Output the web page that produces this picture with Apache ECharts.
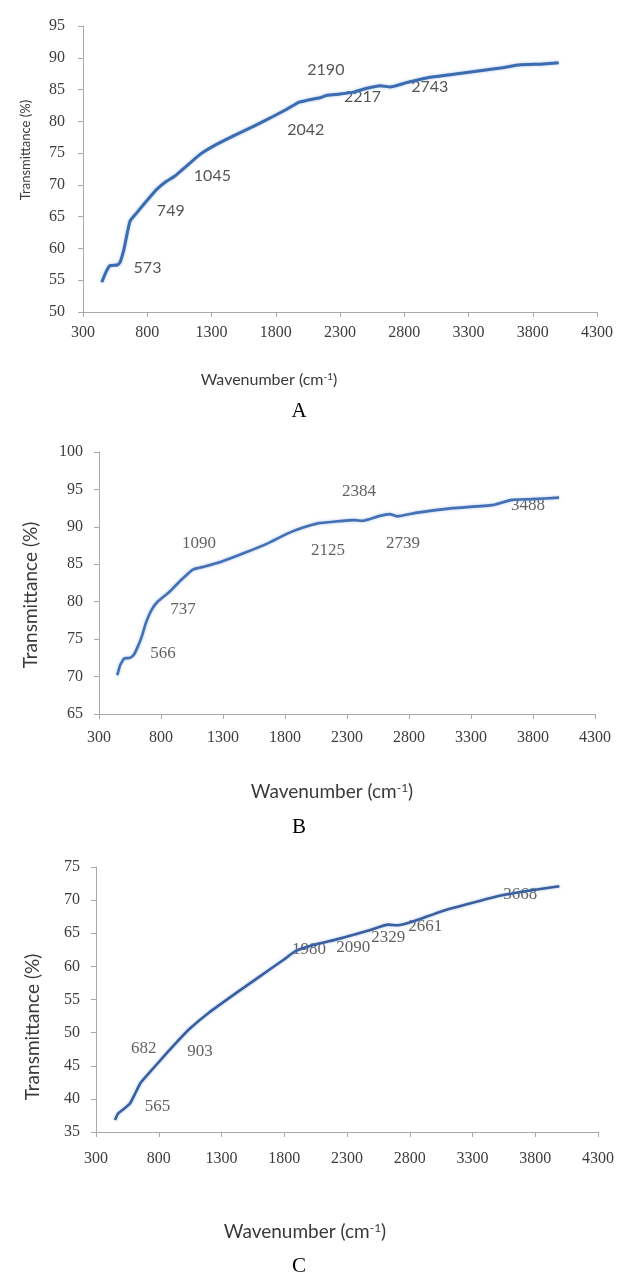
<!DOCTYPE html>
<html>
<head>
<meta charset="utf-8">
<script src="https://cdn.jsdelivr.net/npm/echarts@6/dist/echarts.min.js"></script>
<style>
html,body{margin:0;padding:0;background:#fff;}
#chart{width:617px;height:1278px;}
</style>
</head>
<body>
<div id="chart"></div>
<script>
// ---------- DATA ----------
const xTicks = [300, 800, 1300, 1800, 2300, 2800, 3300, 3800, 4300];

// Panel A
const wavenumberA = [446,484,510,567,588,619,640,666,718,796,874,952,1016,1108,1211,1315,1471,1626,1782,1886,1977,2042,2146,2198,2301,2405,2509,2613,2691,2821,3028,3288,3548,3703,3859,4002];
const transmittanceA = [54.7,56.5,57.3,57.4,57.8,59.9,62.0,64.3,65.6,67.5,69.3,70.6,71.4,73.0,74.8,76.1,77.7,79.2,80.8,81.9,83.0,83.3,83.7,84.1,84.3,84.6,85.2,85.6,85.4,86.1,87.0,87.7,88.4,88.9,89.0,89.2];
const peakLabelsA = ['573','749','1045','2042','2190','2217','2743'];
const peakLabelXA = [802, 983, 1307, 2034, 2190, 2475, 2998];
const peakLabelYA = [56.9, 65.9, 71.5, 78.7, 88.1, 83.8, 85.4];

// Panel B
const wavenumberB = [448,470,502,550,581,613,644,677,724,772,867,962,1057,1152,1280,1470,1661,1819,1946,2073,2200,2359,2423,2550,2645,2708,2867,3153,3470,3629,3788,4010];
const transmittanceB = [70.2,71.5,72.4,72.5,72.9,74.0,75.3,77.1,78.9,80.0,81.3,82.9,84.3,84.7,85.3,86.5,87.8,89.1,89.9,90.5,90.7,90.9,90.8,91.4,91.7,91.4,91.9,92.5,92.9,93.6,93.7,93.9];
const peakLabelsB = ['566','737','1090','2125','2384','2739','3488'];
const peakLabelXB = [816, 977, 1106, 2147, 2397, 2752, 3760];
const peakLabelYB = [73.1, 78.9, 87.8, 86.8, 94.7, 87.8, 92.9];

// Panel C
const wavenumberC = [451,476,523,571,617,658,727,821,916,1042,1199,1418,1606,1795,1889,2046,2203,2360,2485,2627,2705,2831,3051,3301,3553,3773,3992];
const transmittanceC = [36.8,37.8,38.5,39.3,41.0,42.5,44.0,46.0,48.0,50.5,53.0,56.0,58.5,61.0,62.3,63.3,64.0,64.8,65.5,66.3,66.2,66.8,68.3,69.6,70.8,71.5,72.1];
const peakLabelsC = ['682','903','565','1980','2090','2329','2661','3668'];
const peakLabelXC = [680, 1129, 790, 1998, 2349, 2628, 2923, 3681];
const peakLabelYC = [47.6, 47.1, 38.9, 62.6, 62.9, 64.4, 66.0, 70.8];

const yTitle = 'Transmittance (%)';
const panelLetters = ['A', 'B', 'C'];

// ---------- CHART ----------
const chart = echarts.init(document.getElementById('chart'), null, {renderer: 'canvas'});

const panels = [
  {wn: wavenumberA, tr: transmittanceA, pl: peakLabelsA, px: peakLabelXA, py: peakLabelYA,
   yMin: 50, yMax: 95,
   grid: {left: 83, right: 20, top: 26, height: 286},
   tickFont: 16, labelMargin: 18, xLabelMargin: 13,
   annFont: {fontFamily: 'Lato', fontSize: 16, color: '#2b2b2b'},
   lineColor: '#3b6cb0', lineWidth: 3},
  {wn: wavenumberB, tr: transmittanceB, pl: peakLabelsB, px: peakLabelXB, py: peakLabelYB,
   yMin: 65, yMax: 100,
   grid: {left: 99, right: 22, top: 452, height: 262},
   tickFont: 16, labelMargin: 16, xLabelMargin: 16,
   annFont: {fontFamily: 'Liberation Serif', fontSize: 17, color: '#3a3a3a'},
   lineColor: '#4470b4', lineWidth: 2.6},
  {wn: wavenumberC, tr: transmittanceC, pl: peakLabelsC, px: peakLabelXC, py: peakLabelYC,
   yMin: 35, yMax: 75,
   grid: {left: 96, right: 19, top: 867, height: 265},
   tickFont: 16, labelMargin: 16, xLabelMargin: 19,
   annFont: {fontFamily: 'Liberation Serif', fontSize: 17, color: '#3a3a3a'},
   lineColor: '#3a5f9e', lineWidth: 2.6}
];

const axisGray = '#a9a9a9';
const grids = [], xAxes = [], yAxes = [], series = [];
const plain = v => String(v);

panels.forEach((p, i) => {
  grids.push(Object.assign({outerBoundsMode: 'none', containLabel: false}, p.grid));
  xAxes.push({
    type: 'value', gridIndex: i, min: 300, max: 4300,
    axisLine: {show: true, onZero: false, lineStyle: {color: axisGray, width: 1}},
    axisTick: {show: true, inside: false, length: 5, customValues: xTicks, lineStyle: {color: axisGray}},
    axisLabel: {customValues: xTicks, formatter: plain, margin: p.xLabelMargin, fontFamily: 'Liberation Serif',
                fontSize: p.tickFont, color: '#3c3c3c'},
    splitLine: {show: false}
  });
  yAxes.push({
    type: 'value', gridIndex: i, min: p.yMin, max: p.yMax, interval: 5,
    axisLine: {show: true, lineStyle: {color: axisGray, width: 1}},
    axisTick: {show: true, inside: false, length: 5, lineStyle: {color: axisGray}},
    axisLabel: {margin: p.labelMargin, formatter: plain, fontFamily: 'Liberation Serif', fontSize: p.tickFont, color: '#3c3c3c'},
    splitLine: {show: false}
  });
  series.push({
    type: 'scatter', xAxisIndex: i, yAxisIndex: i, z: 1, symbolSize: 0, silent: true,
    data: p.pl.map((t, k) => ({name: t, value: [p.px[k], p.py[k]]})),
    label: Object.assign({show: true, position: 'inside', formatter: '{b}'}, p.annFont)
  });
  series.push({
    type: 'line', xAxisIndex: i, yAxisIndex: i, z: 3, showSymbol: false, smooth: 0.12,
    data: p.wn.map((w, k) => [w, p.tr[k]]),
    lineStyle: {color: p.lineColor, width: p.lineWidth, shadowColor: 'rgba(130,170,225,0.7)', shadowBlur: 3},
    silent: true
  });
});

function xTitle(cx, cy, size) {
  return {
    type: 'text', x: cx, y: cy,
    style: {
      text: '{m|Wavenumber (cm}{s|-1}{m|)}',
      align: 'center', verticalAlign: 'middle',
      rich: {
        m: {fontFamily: 'Lato', fontSize: size, fill: '#3a3a3a', color: '#3a3a3a'},
        s: {fontFamily: 'Lato', fontSize: Math.round(size * 0.62), fill: '#3a3a3a', color: '#3a3a3a', verticalAlign: 'top', padding: [0, 0, size * 0.45, 0]}
      }
    }
  };
}
function yTitleEl(cx, cy, size) {
  return {
    type: 'text', x: cx, y: cy, rotation: Math.PI / 2,
    style: {text: yTitle, fontFamily: 'Lato', fontSize: size, fill: '#3a3a3a', align: 'center', verticalAlign: 'middle'}
  };
}
function letter(t, cx, cy) {
  return {type: 'text', x: cx, y: cy,
    style: {text: t, fontFamily: 'Liberation Serif', fontSize: 21, fill: '#000', align: 'center', verticalAlign: 'middle'}};
}

const graphic = [
  yTitleEl(26, 150, 13), xTitle(269, 380, 16), letter(panelLetters[0], 299, 411),
  yTitleEl(31, 595, 19), xTitle(332, 792, 19), letter(panelLetters[1], 299, 827),
  yTitleEl(33, 1027, 19), xTitle(305, 1232, 19), letter(panelLetters[2], 299, 1266)
];

chart.setOption({
  animation: false,
  backgroundColor: '#ffffff',
  grid: grids,
  xAxis: xAxes,
  yAxis: yAxes,
  series: series,
  graphic: graphic
});
</script>
</body>
</html>
